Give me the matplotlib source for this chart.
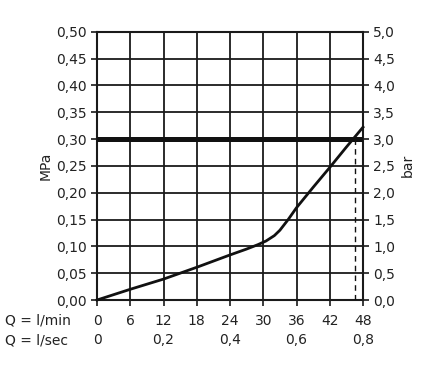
import matplotlib
matplotlib.use("Agg")
import matplotlib.pyplot as plt

flow_lpm = [0, 6, 12, 15, 18, 24, 27, 29, 30.5, 32, 33, 34.5, 36, 39, 42, 45, 48]
pressure_mpa = [0, 0.020, 0.039, 0.050, 0.061, 0.084, 0.095, 0.103, 0.110, 0.120, 0.130, 0.150,
                0.172, 0.210, 0.247, 0.285, 0.322]
limit_mpa = 0.30
limit_flow = 46.5
lpm_ticks = [0, 6, 12, 18, 24, 30, 36, 42, 48]
lps_ticks = [0, 12, 24, 36, 48]
lps_labels = ["0", "0,2", "0,4", "0,6", "0,8"]
mpa_ticks = [i * 0.05 for i in range(11)]
bar_ticks = [i * 0.5 for i in range(11)]

plt.rcParams['font.family'] = ['DejaVu Sans']
fig = plt.figure(figsize=(4.4, 3.79), dpi=100)
ax = fig.add_axes([0.2205, 0.2084, 0.6045, 0.708])
col = '#1a1a1a'

ax.set_xlim(0, 48)
ax.set_ylim(0, 0.5)
ax.set_xticks(lpm_ticks)
ax.set_yticks(mpa_ticks)
ax.set_yticklabels([f"{v:.2f}".replace('.', ',') for v in mpa_ticks])
ax.set_xticklabels([str(v) for v in lpm_ticks])
ax.grid(True, color=col, linewidth=1.3)
ax.set_axisbelow(True)
for s in ax.spines.values():
    s.set_color(col)
    s.set_linewidth(1.5)
ax.tick_params(axis='both', colors=col, labelcolor='#222222', labelsize=10, length=4, width=1.2)
ax.tick_params(axis='x', pad=6)

ax.axhline(limit_mpa, color='#111111', linewidth=3.6, zorder=3)
ax.plot([limit_flow, limit_flow], [0, limit_mpa], color='#111111', linewidth=1.0,
        linestyle=(0, (4, 3)), zorder=3)
ax.plot(flow_lpm, pressure_mpa, color='#111111', linewidth=2.0, zorder=4, clip_on=False,
        solid_joinstyle='round')

ax.set_ylabel("MPa", fontsize=10, color='#222222', labelpad=2)

ax2 = ax.twinx()
ax2.set_ylim(0, 5)
ax2.set_yticks(bar_ticks)
ax2.set_yticklabels([f"{v:.1f}".replace('.', ',') for v in bar_ticks])
ax2.tick_params(axis='y', colors=col, labelcolor='#222222', labelsize=10, length=4, width=1.2)
for s in ax2.spines.values():
    s.set_visible(False)
ax2.set_ylabel("bar", fontsize=10, color='#222222', labelpad=4)

# l/sec row
for t, lab in zip(lps_ticks, lps_labels):
    ax.text(t, -0.075, lab, ha='center', va='center', fontsize=10, color='#222222',
            transform=ax.transData, clip_on=False)

fig.text(5 / 440, 1 - 320 / 379, "Q = l/min", ha='left', va='center', fontsize=10, color='#222222')
fig.text(5 / 440, 1 - 340 / 379, "Q = l/sec", ha='left', va='center', fontsize=10, color='#222222')

fig.savefig("out.png", dpi=100, facecolor='white')
